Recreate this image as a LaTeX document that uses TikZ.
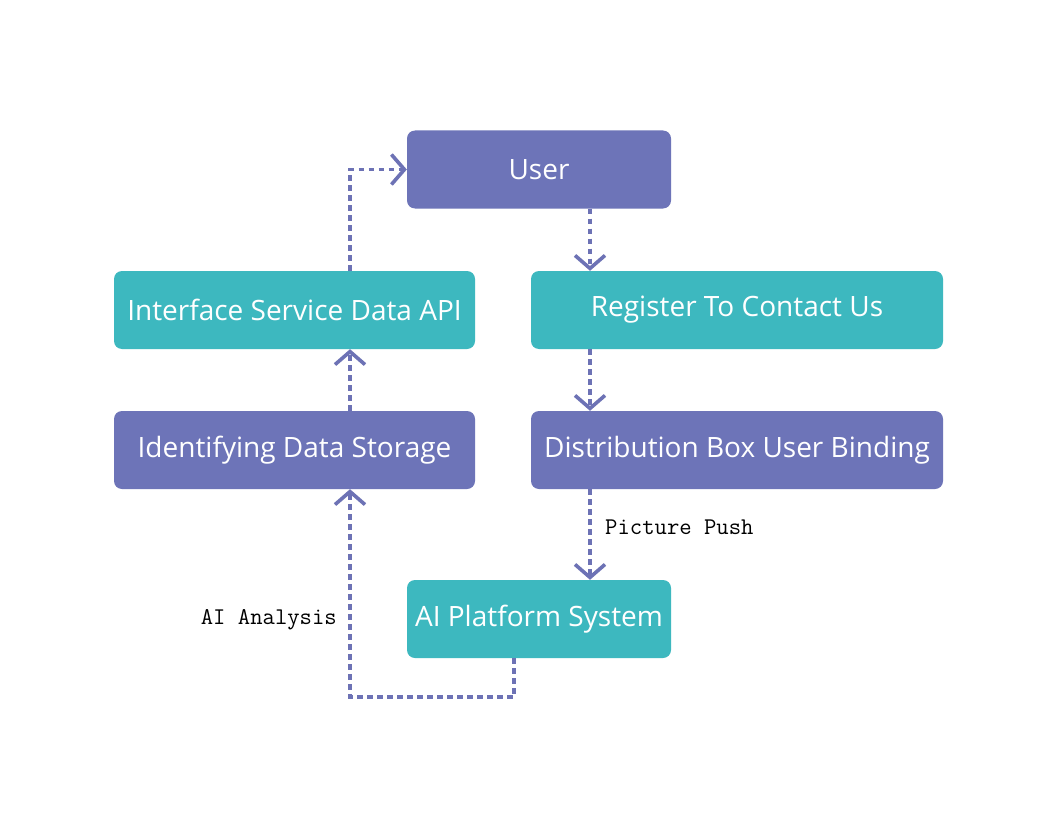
\documentclass[tikz,border=0pt]{standalone}
\usepackage{fontspec}
\setmainfont{Open Sans}
\usetikzlibrary{arrows.meta}
\definecolor{boxpurple}{HTML}{6D74B8}
\definecolor{boxteal}{HTML}{3DB8BF}
\definecolor{linepurple}{HTML}{6D72B5}
\begin{document}
\begin{tikzpicture}[x=1pt,y=-1pt,
  box/.style={rounded corners=8pt, inner sep=0pt, minimum height=78pt, text=white,
    font=\fontsize{28}{32}\selectfont},
  pbox/.style={box, fill=boxpurple},
  tbox/.style={box, fill=boxteal},
  flow/.style={draw=linepurple, line width=3.8pt, dash pattern=on 5.5pt off 4.5pt,
    -{Straight Barb[length=13pt,width=30pt,line width=3.6pt]}},
  lbl/.style={font=\ttfamily\fontsize{24}{28}\selectfont, text=black, inner sep=0pt}]
\useasboundingbox (0,0) rectangle (1060,824);
\fill[white] (0,0) rectangle (1060,824);
\node[pbox, minimum width=264pt] (user) at (539,169.5) {User};
\node[tbox, minimum width=361pt] (iface) at (294.5,310) {Interface Service Data API};
\node[tbox, minimum width=412pt] (reg) at (737,310) {Register To Contact Us};
\node[pbox, minimum width=361pt] (ident) at (294.5,450) {Identifying Data Storage};
\node[pbox, minimum width=412pt] (dist) at (737,450) {Distribution Box User Binding};
\node[tbox, minimum width=264pt] (ai) at (539,619) {AI Platform System};
\coordinate (xr) at (590,0);
\coordinate (xl) at (350,0);
\coordinate (xa) at (514,0);
\coordinate (corner) at (350,697);
\draw[flow] (user.south -| xr) -- (reg.north -| xr);
\draw[flow] (reg.south -| xr) -- (dist.north -| xr);
\draw[flow] (dist.south -| xr) -- (ai.north -| xr);
\draw[flow] (ai.south -| xa) |- (corner) -- (ident.south -| corner);
\draw[flow] (ident.north -| xl) -- (iface.south -| xl);
\draw[flow] (iface.north -| xl) |- (user.west);
\node[lbl, anchor=west] (pp) at (605,527) {Picture Push};
\node[lbl, anchor=east] (aa) at (337,620) {AI Analysis};
\end{tikzpicture}
\end{document}
